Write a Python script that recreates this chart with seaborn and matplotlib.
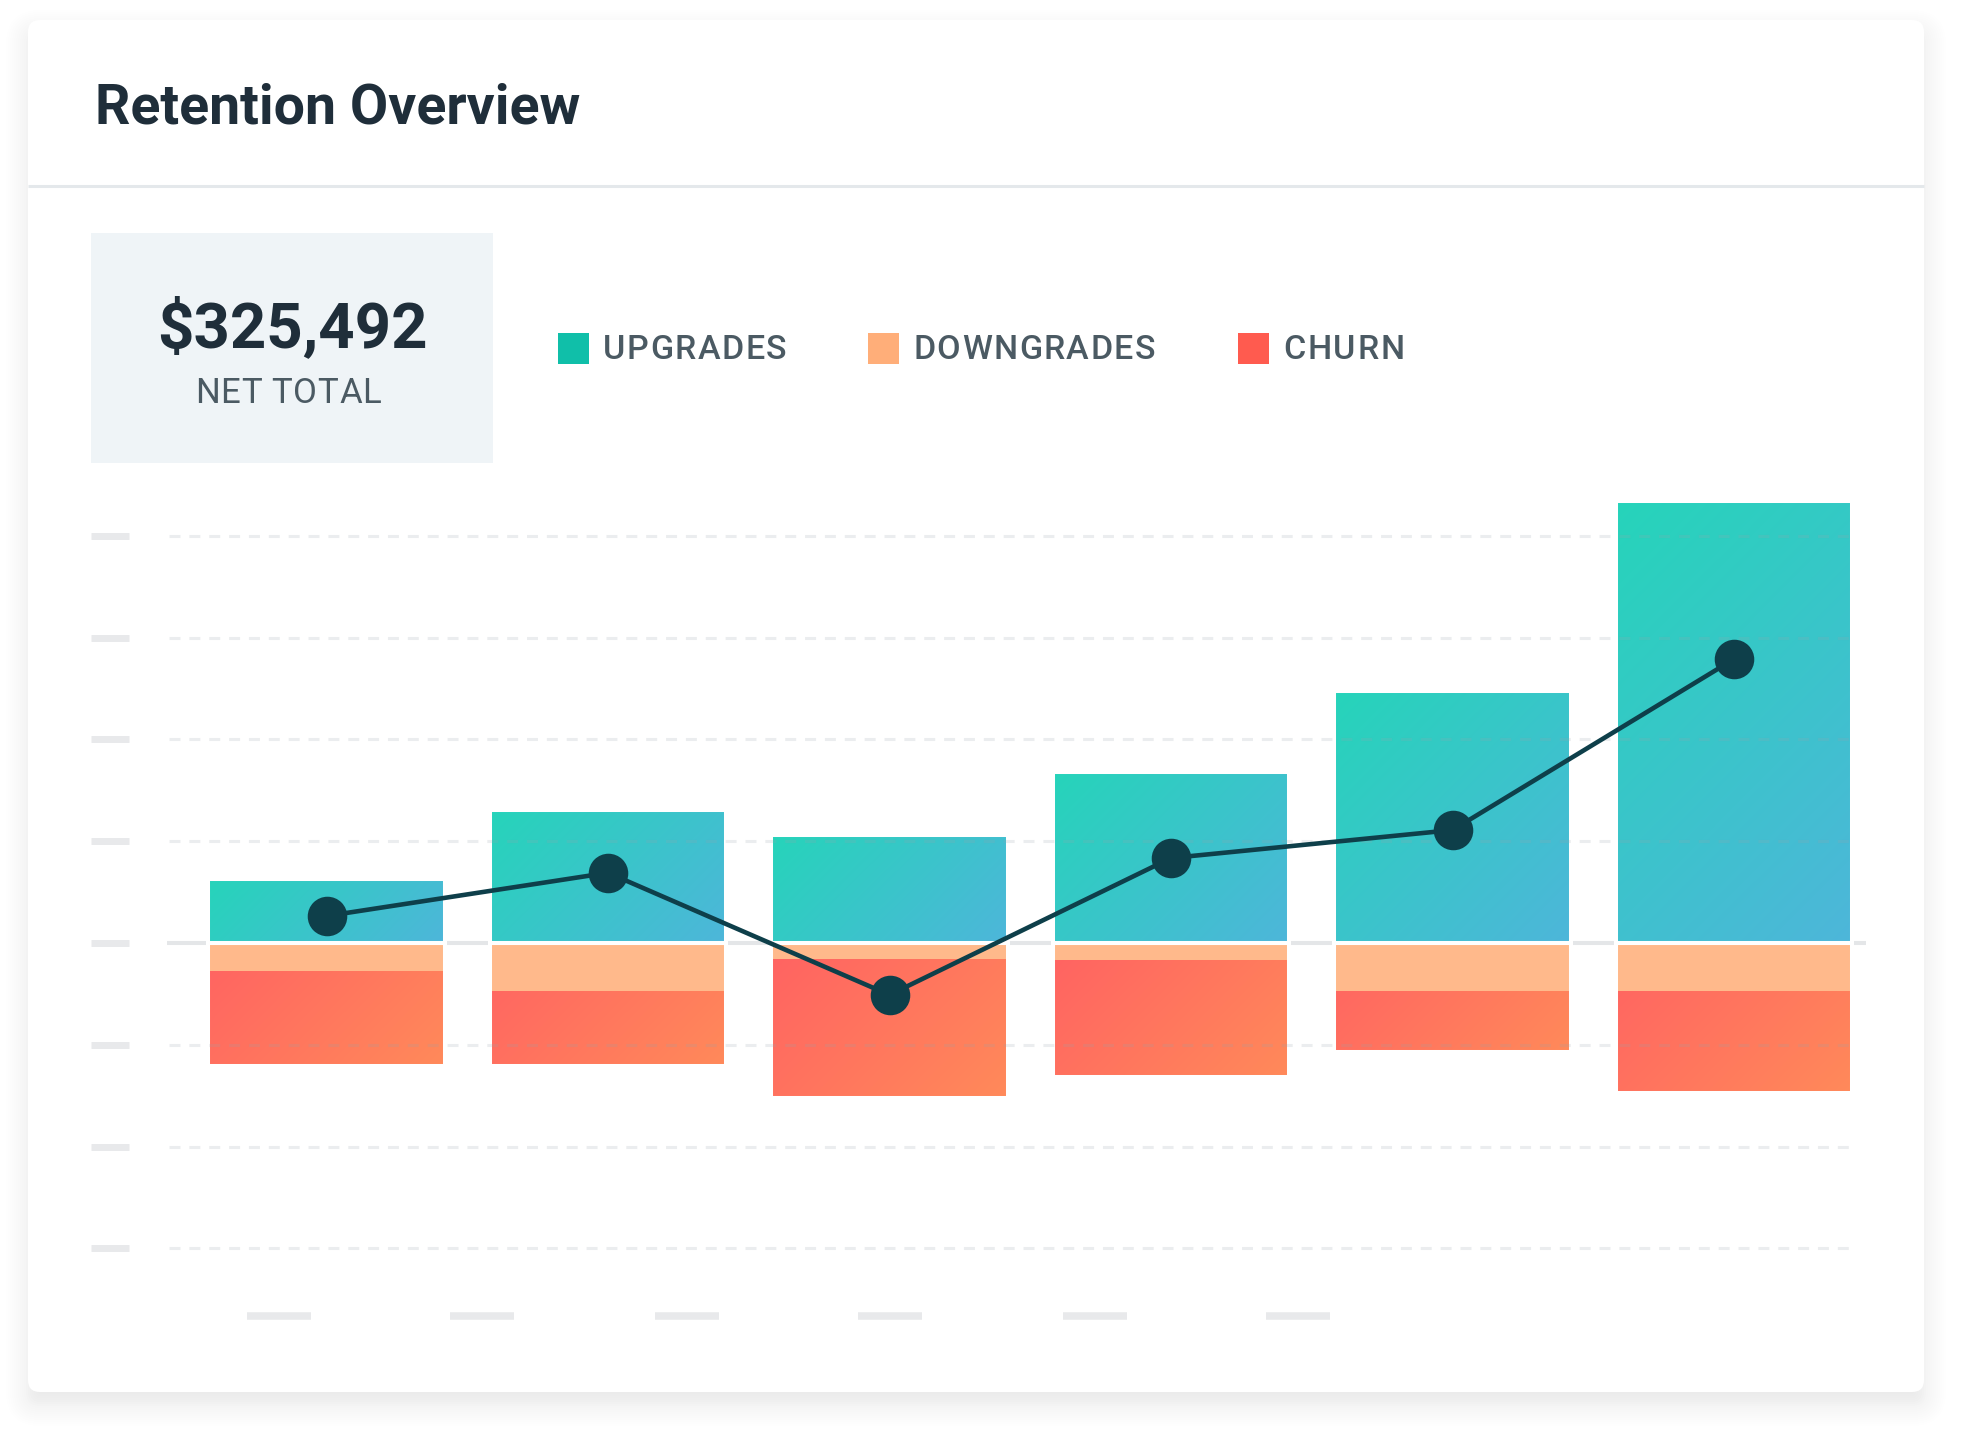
import math
import numpy as np
import pandas as pd
import seaborn as sns
import matplotlib
matplotlib.use("Agg")
from matplotlib import pyplot as plt
from matplotlib import transforms
from matplotlib.patches import FancyBboxPatch, Rectangle
from matplotlib.colors import LinearSegmentedColormap

# values in $k (one grid step = 20k)
months = ["Jan", "Feb", "Mar", "Apr", "May", "Jun"]
upgrades = [12.6, 26.1, 21.2, 33.6, 49.5, 86.8]
downgrades = [5.5, 9.4, 3.1, 3.3, 9.4, 9.4]
churn = [18.7, 14.8, 27.3, 23.0, 12.0, 20.1]
net = [5.3, 13.8, -10.2, 16.7, 22.2, 55.8]
grid_values = [-60, -40, -20, 0, 20, 40, 60, 80]
legend_labels = ["UPGRADES", "DOWNGRADES", "CHURN"]
title = "Retention Overview"
net_total = "$325,492"
net_label = "NET TOTAL"

teal = ["#26d4ba", "#4eb6da"]
reds = ["#ff6262", "#ff8a5a"]
peach = "#ffb98b"
navy = "#0e3f4a"
legend_colors = ["#10bfa9", "#ffae79", "#ff5b4f"]

W, H = 1968, 1444
sns.set_theme(style="white")
plt.rcParams["font.family"] = ["Roboto", "DejaVu Sans"]

fig = plt.figure(figsize=(W / 100, H / 100), dpi=100)
fig.patch.set_facecolor("white")
renderer = fig.canvas.get_renderer()

# background layer in pixel coordinates
bg = fig.add_axes([0, 0, 1, 1], zorder=0)
bg.set_xlim(0, W)
bg.set_ylim(H, 0)
bg.axis("off")


def text_width(s, **kw):
    t = bg.text(0, 0, s, **kw)
    w = t.get_window_extent(renderer).width
    t.remove()
    return w


def spaced_text(x, y, s, sp, center=False, **kw):
    # matplotlib has no letter-spacing, so place the letters one by one
    wh = text_width("H", **kw)
    if center:
        x = x - (text_width(s, **kw) + sp * (len(s) - 1)) / 2
    for i, ch in enumerate(s):
        offs = 0 if i == 0 else text_width(s[:i] + "H", **kw) - wh
        bg.text(x + offs + i * sp, y, ch, va="baseline", **kw)


card_x, card_y, card_w, card_h, rad = 28, 20, 1896, 1372, 12
sigma, amp, off = 16.0, 0.12, 12
for e in range(-30, 64, 2):
    a = amp * (math.erf((e + 1) / (sigma * math.sqrt(2))) - math.erf((e - 1) / (sigma * math.sqrt(2)))) / 2
    if a <= 0.0005:
        continue
    bg.add_patch(FancyBboxPatch((card_x - e, card_y - e + off), card_w + 2 * e, card_h + 2 * e,
                                boxstyle=f"round,pad=0,rounding_size={max(rad + e, 1)}",
                                fc="black", ec="none", alpha=a, zorder=0))
bg.add_patch(FancyBboxPatch((card_x, card_y), card_w, card_h,
                            boxstyle=f"round,pad=0,rounding_size={rad}",
                            fc="white", ec="none", zorder=1))
bg.plot([card_x, card_x + card_w], [185.5, 185.5], color="#e4e8eb", lw=2.2, zorder=2,
        solid_capstyle="butt")

bg.text(95, 124, title, fontsize=40.0, fontweight="bold", color="#1f2e3a", va="baseline", zorder=3)

bg.add_patch(Rectangle((91, 233), 402, 230, fc="#eff4f7", ec="none", zorder=2))
bg.text(292, 347, net_total, fontsize=45.7, fontweight="bold", color="#1f2e3a",
        ha="center", va="baseline", zorder=3)
spaced_text(288, 403, net_label, 0.7, center=True, fontsize=25, color="#4b5a63", zorder=3)

legend_x = [558, 868, 1238]
legend_sp = [1.5, 1.5, 1.9]
for lx, lab, col, sp in zip(legend_x, legend_labels, legend_colors, legend_sp):
    bg.add_patch(Rectangle((lx, 333), 31, 31, fc=col, ec="none", zorder=3))
    spaced_text(lx + 45, 359, lab, sp, fontsize=24.5, fontweight="medium", color="#4b5a63",
                zorder=3)

# x placeholder dashes below the chart
for x0 in [247, 450, 655, 858, 1063, 1266]:
    bg.plot([x0, x0 + 64], [1316, 1316], color="#e8e9eb", lw=5.4, solid_capstyle="butt", zorder=3)

# chart axes
ax_l, ax_r, ax_t, ax_b = 167, 1866, 480, 1280
ax = fig.add_axes([ax_l / W, 1 - ax_b / H, (ax_r - ax_l) / W, (ax_b - ax_t) / H], zorder=2)
ax.set_facecolor("none")

df = pd.DataFrame({"month": months, "upgrades": upgrades, "downgrades": downgrades,
                   "churn": churn, "net": net})
df["loss"] = -(df["downgrades"] + df["churn"])
df["down_neg"] = -df["downgrades"]

bar_w = 0.84
sns.barplot(data=df, x="month", y="upgrades", color=teal[0], width=bar_w, saturation=1,
            errorbar=None, ax=ax)
sns.barplot(data=df, x="month", y="loss", color=reds[0], width=bar_w, saturation=1,
            errorbar=None, ax=ax)
sns.barplot(data=df, x="month", y="down_neg", color=peach, width=bar_w, saturation=1,
            errorbar=None, ax=ax)

px_x = 281.5
px_y = 101.75 / 20
edge_lw = 2.9


def paint(patch, cmap):
    x0, x1 = sorted([patch.get_x(), patch.get_x() + patch.get_width()])
    y0, y1 = sorted([patch.get_y(), patch.get_y() + patch.get_height()])
    wpx, hpx = (x1 - x0) * px_x, (y1 - y0) * px_y
    u = np.linspace(0, wpx, max(int(wpx), 2))[None, :]
    v = np.linspace(0, hpx, max(int(hpx), 2))[:, None]
    t = (u + v) / (wpx + hpx)
    im = ax.imshow(t, cmap=cmap, vmin=0, vmax=1, extent=[x0, x1, y0, y1], origin="upper",
                   aspect="auto", interpolation="bilinear", zorder=1.8)
    im.set_clip_path(patch)
    patch.set_facecolor("none")
    patch.set_edgecolor("white")
    patch.set_linewidth(edge_lw)
    patch.set_zorder(2)


teal_map = LinearSegmentedColormap.from_list("teal", teal)
red_map = LinearSegmentedColormap.from_list("red", reds)
for p in ax.containers[0]:
    paint(p, teal_map)
for p in ax.containers[1]:
    paint(p, red_map)
for p in ax.containers[2]:
    p.set_edgecolor("none")
    p.set_zorder(1.9)

n_lines = len(ax.lines)
sns.pointplot(data=df, x="month", y="net", color=navy, markers="o", markersize=26,
              linewidth=3.3, errorbar=None, ax=ax)
for ln in ax.lines[n_lines:]:
    ln.set_zorder(4)
for c in ax.collections:
    c.set_zorder(4)

# grid, zero line and y placeholders
ax.axhline(0, color="#e4e6e8", lw=2.9, zorder=0.5)
gx0 = (169 - ax_l) / (ax_r - ax_l)
gx1 = (1857 - ax_l) / (ax_r - ax_l)
for gv in grid_values:
    if gv != 0:
        ax.axhline(gv, xmin=gx0, xmax=gx1, color=(0.6, 0.645, 0.67), alpha=0.19, lw=2.2,
                   linestyle=(0, (3.6, 2.9)), zorder=2.5)
trans = transforms.blended_transform_factory(ax.transAxes, ax.transData)
for gv in grid_values:
    ax.plot([(91 - ax_l) / (ax_r - ax_l), (129 - ax_l) / (ax_r - ax_l)], [gv, gv],
            transform=trans, color="#e8e9eb", lw=5.0, solid_capstyle="butt", clip_on=False)

ax.set_xlim(-(326.5 - ax_l) / px_x, 5 + (ax_r - 1734) / px_x)
ax.set_ylim(-(ax_b - 943) / px_y, (943 - ax_t) / px_y)
ax.axis("off")

fig.savefig("out.png", dpi=100)
